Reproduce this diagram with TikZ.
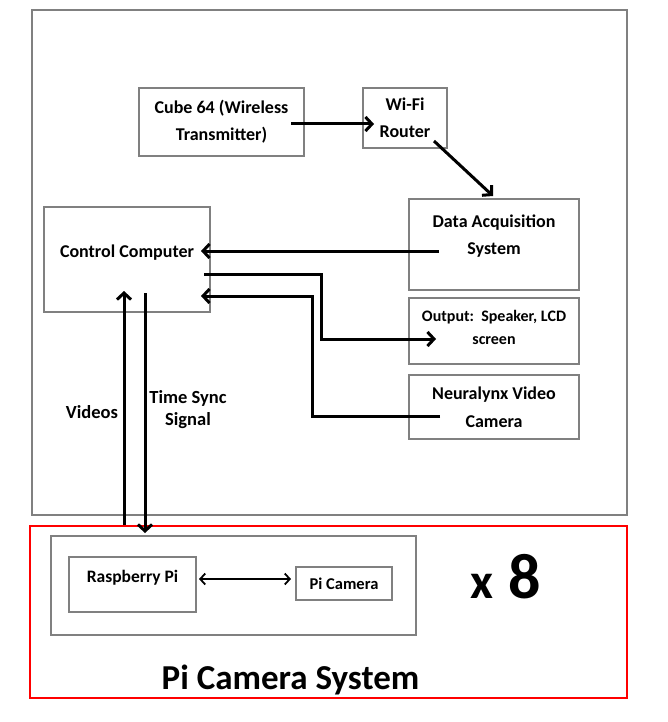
\documentclass[tikz,border=0pt]{standalone}
\usepackage{fontspec}
\setmainfont{Carlito}
\usetikzlibrary{arrows.meta}
\definecolor{boxgray}{RGB}{128,128,128}

\begin{document}
\begin{tikzpicture}[x=1pt,y=-1pt,
  box/.style={draw=boxgray, line width=2pt, align=center, inner sep=2pt, font=\fontsize{18}{27}\selectfont\bfseries},
  txt/.style={align=center, font=\fontsize{18.5}{22}\selectfont\bfseries},
  flow/.style={line width=3pt, -{Straight Barb[length=6.5pt,width=14pt]}},
  link/.style={line width=1.8pt, {Straight Barb[length=5pt,width=11pt]}-{Straight Barb[length=5pt,width=11pt]}}]
\useasboundingbox (0,0) rectangle (667,722);
\node[box, minimum width=595, minimum height=505] (Outer) at (329.5,262.5) {};
\node[box, draw=red, line width=1.6pt, minimum width=597, minimum height=172] (PiSystem) at (328.5,612) {};
\node[box, minimum width=165, minimum height=68] (Cube) at (221.5,122) {Cube 64 (Wireless\\Transmitter)};
\node[box, minimum width=84, minimum height=60] (Router) at (405,118) {Wi-Fi\\Router};
\node[box, minimum width=170, minimum height=91, text depth=20pt] (DAQ) at (494,244.5) {Data Acquisition\\System};
\node[box, minimum width=166, minimum height=105, text depth=16pt] (Control) at (127,259.5) {Control Computer};
\node[box, minimum width=170, minimum height=66, text depth=8pt, font=\fontsize{16}{23}\selectfont\bfseries] (Output) at (494,331) {Output:\ \ Speaker, LCD\\screen};
\node[box, minimum width=170, minimum height=64, font=\fontsize{18}{28}\selectfont\bfseries] (Camera) at (494,407) {Neuralynx Video\\Camera};
\node[box, minimum width=365, minimum height=99] (PiBox) at (233.5,585.5) {};
\node[box, minimum width=127, minimum height=55, text depth=17pt, font=\fontsize{17.5}{20}\selectfont\bfseries] (RaspPi) at (132.5,584.5) {Raspberry Pi};
\node[box, minimum width=96, minimum height=33, inner sep=0pt, font=\fontsize{16.5}{20}\selectfont\bfseries] (PiCam) at (344,583.5) {Pi Camera};
\node[txt] (Videos) at (92,412) {Videos};
\node[txt] (TimeSync) at (188,410) {Time Sync\\Signal};
\node[anchor=base, inner sep=0pt] (Times) at (506,598) {\fontsize{50}{60}\selectfont\bfseries x\hspace{4pt} \fontsize{64}{64}\selectfont 8};
\node[anchor=base, inner sep=0pt, font=\fontsize{35}{35}\selectfont\bfseries] (Title) at (290.5,689) {Pi Camera System};
\coordinate (VidTip) at ([shift={(-3,-22)}]Control.south);
\coordinate (SyncTail) at ([shift={(18,-20)}]Control.south);
\draw[flow] ([shift={(-14,2)}]Cube.east) -- ([shift={(12,6)}]Router.west);
\draw[flow] ([shift={(-14,-8)}]Router.south east) -- ([shift={(-1,-2)}]DAQ.north);
\draw[flow] ([shift={(31,6.5)}]DAQ.west) -- ([shift={(-10,-8.5)}]Control.east);
\draw[flow] ([shift={(-7,14.5)}]Control.east) -- ++(117,0) |- ([shift={(28,8)}]Output.west);
\draw[flow] ([shift={(32,9)}]Camera.west) -- ++(-128,0) |- ([shift={(-10,36.5)}]Control.east);
\draw[flow] (VidTip |- PiSystem.north) -- (VidTip);
\draw[flow] (SyncTail) -- ([yshift=2pt]SyncTail |- PiBox.north);
\draw[link] ([shift={(2,-5.5)}]RaspPi.east) -- ([shift={(-4,-4.5)}]PiCam.west);
\end{tikzpicture}
\end{document}
